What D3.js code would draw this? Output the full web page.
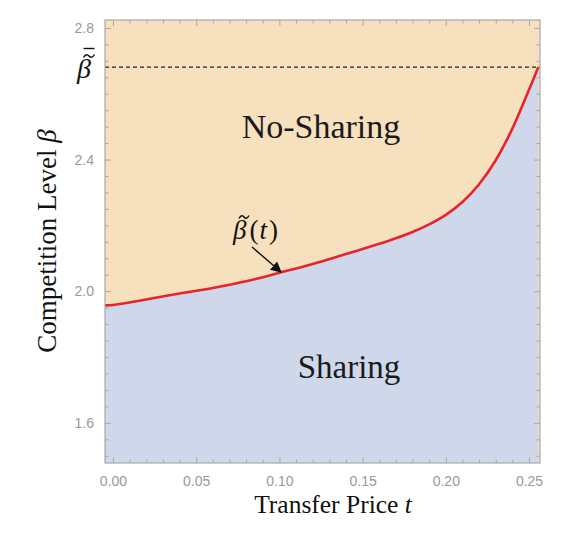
<!DOCTYPE html>
<html><head><meta charset="utf-8">
<script src="https://cdn.jsdelivr.net/npm/d3@7"></script>
<style>body{margin:0;background:#fff}</style>
</head><body>
<script>
// Data
const tValues = [-0.0048, 0.00, 0.02, 0.04, 0.06, 0.08, 0.10, 0.12, 0.14, 0.15, 0.16, 0.17, 0.18, 0.19, 0.20, 0.21, 0.22, 0.23, 0.24, 0.25, 0.2556];
const betaValues = [1.957, 1.958, 1.975, 1.993, 2.010, 2.030, 2.056, 2.083, 2.113, 2.128, 2.144, 2.161, 2.180, 2.203, 2.232, 2.271, 2.325, 2.398, 2.494, 2.612, 2.681];
const betaBar = 2.681;
const xTicks = [0.00, 0.05, 0.10, 0.15, 0.20, 0.25];
const yTicks = [1.6, 2.0, 2.4, 2.8];
const xDomain = [-0.0048, 0.2566];
const yDomain = [1.478, 2.824];

const W = 578, H = 533;
const L = 105, R = 540, T = 20, B = 463;
const svg = d3.select("body").append("svg").attr("width", W).attr("height", H);
const x = d3.scaleLinear().domain(xDomain).range([L, R]);
const y = d3.scaleLinear().domain(yDomain).range([B, T]);
const pts = tValues.map((t, i) => ({t, b: betaValues[i]}));

const defs = svg.append("defs");
defs.append("clipPath").attr("id", "clip").append("rect")
  .attr("x", L).attr("y", T).attr("width", R - L).attr("height", B - T);
defs.append("marker").attr("id", "arr").attr("viewBox", "0 0 10 10")
  .attr("refX", 9).attr("refY", 5).attr("markerWidth", 11).attr("markerHeight", 11)
  .attr("markerUnits", "userSpaceOnUse").attr("orient", "auto")
  .append("path").attr("d", "M0,0 L10,5 L0,10 Z").attr("fill", "#111");

const g = svg.append("g").attr("clip-path", "url(#clip)");
g.append("rect").attr("x", L).attr("y", T).attr("width", R - L).attr("height", B - T).attr("fill", "#F7E0BE");
g.append("path").datum(pts)
  .attr("d", d3.area().x(d => x(d.t)).y0(B + 5).y1(d => y(d.b)).curve(d3.curveCatmullRom))
  .attr("fill", "#CED8EA");
g.append("line").attr("x1", L).attr("x2", R).attr("y1", y(betaBar)).attr("y2", y(betaBar))
  .attr("stroke", "#222").attr("stroke-width", 1.2).attr("stroke-dasharray", "4,3");
g.append("path").datum(pts)
  .attr("d", d3.line().x(d => x(d.t)).y(d => y(d.b)).curve(d3.curveCatmullRom))
  .attr("fill", "none").attr("stroke", "#E8242A").attr("stroke-width", 2.6);

// Frame with inward ticks
const frameColor = "#A8A8A8";
const xMinor = d3.range(0, 0.2566, 0.01).filter(v => !xTicks.some(m => Math.abs(m - v) < 1e-9));
const yMinor = d3.range(1.5, 2.824, 0.05).filter(v => !yTicks.some(m => Math.abs(m - v) < 1e-9));
function addAxis(axisGen, tr) {
  const a = svg.append("g").attr("transform", tr).call(axisGen);
  a.select(".domain").remove();
  a.selectAll("line").attr("stroke", frameColor);
  return a;
}
const lblFont = "'Liberation Sans', Arial, sans-serif";
const xb = addAxis(d3.axisBottom(x).tickValues(xTicks).tickSize(-6).tickPadding(13).tickFormat(d3.format(".2f")), `translate(0,${B})`);
xb.selectAll("text").attr("fill", "#999").attr("font-size", 14).attr("font-family", lblFont);
addAxis(d3.axisBottom(x).tickValues(xMinor).tickSize(-3.5).tickFormat(""), `translate(0,${B})`);
addAxis(d3.axisTop(x).tickValues(xTicks).tickSize(-6).tickFormat(""), `translate(0,${T})`);
addAxis(d3.axisTop(x).tickValues(xMinor).tickSize(-3.5).tickFormat(""), `translate(0,${T})`);
const yl = addAxis(d3.axisLeft(y).tickValues(yTicks).tickSize(-6).tickPadding(11).tickFormat(d3.format(".1f")), `translate(${L},0)`);
yl.selectAll("text").attr("fill", "#999").attr("font-size", 14).attr("font-family", lblFont);
addAxis(d3.axisLeft(y).tickValues(yMinor).tickSize(-3.5).tickFormat(""), `translate(${L},0)`);
addAxis(d3.axisRight(y).tickValues(yTicks).tickSize(-6).tickFormat(""), `translate(${R},0)`);
addAxis(d3.axisRight(y).tickValues(yMinor).tickSize(-3.5).tickFormat(""), `translate(${R},0)`);
svg.append("rect").attr("x", L).attr("y", T).attr("width", R - L).attr("height", B - T)
  .attr("fill", "none").attr("stroke", frameColor).attr("stroke-width", 1.2);

const serif = "'Liberation Serif', 'Times New Roman', serif";
const xt = svg.append("text").attr("x", 333).attr("y", 513).attr("text-anchor", "middle")
  .attr("font-family", serif).attr("font-size", 25.5).attr("fill", "#111");
xt.append("tspan").text("Transfer Price ");
xt.append("tspan").attr("font-style", "italic").text("t");
const yt = svg.append("text").attr("transform", "translate(56,241) rotate(-90)").attr("text-anchor", "middle")
  .attr("font-family", serif).attr("font-size", 27).attr("fill", "#111");
yt.append("tspan").text("Competition Level ");
yt.append("tspan").attr("font-style", "italic").text("β");

svg.append("text").attr("x", 321).attr("y", 138).attr("text-anchor", "middle")
  .attr("font-family", serif).attr("font-size", 34).attr("fill", "#1a1a1a").text("No-Sharing");
svg.append("text").attr("x", 349).attr("y", 378).attr("text-anchor", "middle")
  .attr("font-family", serif).attr("font-size", 33).attr("fill", "#1a1a1a").text("Sharing");

function tilde(cx, cy, w) {
  const h = w / 2;
  svg.append("path")
    .attr("d", `M${cx - h},${cy + 1.5} C${cx - h * 0.6},${cy - 2.5} ${cx - h * 0.2},${cy - 1.5} ${cx},${cy} S${cx + h * 0.6},${cy + 2.5} ${cx + h},${cy - 1.5}`)
    .attr("fill", "none").attr("stroke", "#111").attr("stroke-width", 1.4);
}

// beta-tilde(t) label
const bl = svg.append("text").attr("x", 233).attr("y", 239)
  .attr("font-family", serif).attr("font-size", 27).attr("fill", "#111");
bl.append("tspan").attr("font-style", "italic").text("β");
bl.append("tspan").attr("dx", 3).text("(");
bl.append("tspan").attr("dx", 1).attr("font-style", "italic").text("t");
bl.append("tspan").attr("dx", 2).text(")");
tilde(244, 217, 10);
svg.append("line").attr("x1", 252).attr("y1", 247).attr("x2", 281).attr("y2", 272)
  .attr("stroke", "#111").attr("stroke-width", 1.4).attr("marker-end", "url(#arr)");

// beta-tilde-bar label on the left
svg.append("text").attr("x", 77).attr("y", 78)
  .attr("font-family", serif).attr("font-size", 28).attr("font-style", "italic").attr("fill", "#111").text("β");
tilde(89, 56, 11);
svg.append("line").attr("x1", 83.5).attr("x2", 94.5).attr("y1", 48.5).attr("y2", 48.5)
  .attr("stroke", "#111").attr("stroke-width", 1.4);
</script>
</body></html>
